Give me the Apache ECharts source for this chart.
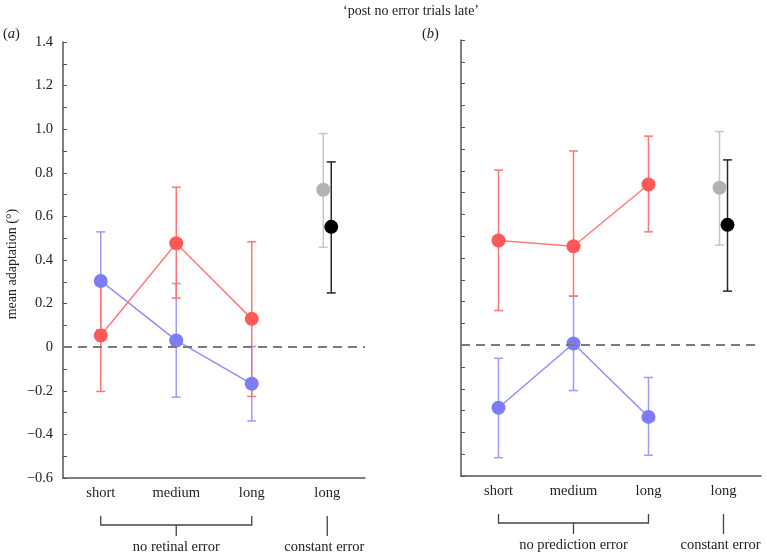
<!DOCTYPE html>
<html><head><meta charset="utf-8">
<script src="https://cdn.jsdelivr.net/npm/echarts@6/dist/echarts.min.js"></script>
<style>html,body{margin:0;padding:0;background:#fff}#c{width:767px;height:554px}</style>
</head><body><div id="c"></div>
<script>
// ---------- data ----------
const categories = ['short', 'medium', 'long', 'long'];
const yTickLabels = ['\u22120.6', '\u22120.4', '\u22120.2', '0', '0.2', '0.4', '0.6', '0.8', '1.0', '1.2', '1.4'];
const groupLabels = ['no retinal error', 'no prediction error'];
const constantLabel = 'constant error';
const titleText = '\u2018post no error trials late\u2019';

// panel (a)
const aRedMean  = [0.054, 0.477, 0.130];
const aRedLow   = [-0.203, 0.225, -0.226];
const aRedHigh  = [0.309, 0.734, 0.483];
const aBlueMean = [0.304, 0.031, -0.168];
const aBlueLow  = [0.080, -0.229, -0.338];
const aBlueHigh = [0.529, 0.292, 0.003];
const aGrayMean = [0.722], aGrayLow = [0.459], aGrayHigh = [0.980];
const aBlackMean = [0.552], aBlackLow = [0.249], aBlackHigh = [0.850];

// panel (b)
const bRedMean  = [0.480, 0.454, 0.737];
const bRedLow   = [0.159, 0.225, 0.520];
const bRedHigh  = [0.803, 0.891, 0.959];
const bBlueMean = [-0.287, 0.008, -0.329];
const bBlueLow  = [-0.516, -0.208, -0.505];
const bBlueHigh = [-0.060, 0.225, -0.148];
const bGrayMean = [0.722], bGrayLow = [0.459], bGrayHigh = [0.980];
const bBlackMean = [0.552], bBlackLow = [0.248], bBlackHigh = [0.850];

// ---------- styling ----------
const FONT = 'Liberation Serif';
const C = {
  redDot: '#ff5858', redLine: '#ff7a7a', redErr: '#ff7474',
  blueDot: '#7c7cf8', blueLine: '#8e8eff', blueErr: '#9c9cff',
  grayDot: '#b2b2b2', grayErr: '#c6c6c6',
  blackDot: '#000000', blackErr: '#2a2a2a',
  axis: '#555555'
};

function errSeries(gi, startIdx, low, high, color, offset) {
  return {
    type: 'custom', xAxisIndex: gi, yAxisIndex: gi,
    data: low.map((l, i) => [startIdx + i, l, high[i]]),
    renderItem: function (params, api) {
      const p1 = api.coord([api.value(0), api.value(1)]);
      const p2 = api.coord([api.value(0), api.value(2)]);
      const x = p1[0] + offset, w = 4.5;
      const st = { stroke: color, lineWidth: 1.5, fill: null };
      return { type: 'group', children: [
        { type: 'line', shape: { x1: x, y1: p1[1], x2: x, y2: p2[1] }, style: st },
        { type: 'line', shape: { x1: x - w, y1: p1[1], x2: x + w, y2: p1[1] }, style: st },
        { type: 'line', shape: { x1: x - w, y1: p2[1], x2: x + w, y2: p2[1] }, style: st }
      ]};
    },
    animation: false, silent: true
  };
}
function lineSeries(gi, mean, dot, line) {
  return {
    type: 'line', xAxisIndex: gi, yAxisIndex: gi,
    data: mean.map((v, i) => [i, v]),
    symbol: 'circle', symbolSize: 14, showSymbol: true,
    itemStyle: { color: dot, borderWidth: 0 },
    lineStyle: { color: line, width: 1.5 },
    animation: false, silent: true
  };
}
function dotSeries(gi, idx, mean, color, offset, withZero) {
  const s = {
    type: 'scatter', xAxisIndex: gi, yAxisIndex: gi,
    data: mean.map((v, i) => [idx + i, v]),
    symbol: 'circle', symbolSize: 14, symbolOffset: [offset, 0],
    itemStyle: { color: color, opacity: 1 },
    animation: false, silent: true
  };
  if (withZero) {
    s.markLine = {
      silent: true, symbol: ['none', 'none'], animation: false,
      label: { show: false },
      lineStyle: { color: '#7a7a7a', width: 2, type: [9, 6], opacity: 1 },
      data: [{ yAxis: 0 }]
    };
  }
  return s;
}
function panelSeries(gi, d) {
  return [
    errSeries(gi, 0, d.blueLow, d.blueHigh, C.blueErr, 0),
    lineSeries(gi, d.blueMean, C.blueDot, C.blueLine),
    errSeries(gi, 0, d.redLow, d.redHigh, C.redErr, 0),
    lineSeries(gi, d.redMean, C.redDot, C.redLine),
    errSeries(gi, 3, d.grayLow, d.grayHigh, C.grayErr, -4),
    dotSeries(gi, 3, d.grayMean, C.grayDot, -4, false),
    errSeries(gi, 3, d.blackLow, d.blackHigh, C.blackErr, 4),
    dotSeries(gi, 3, d.blackMean, C.blackDot, 4, true)
  ];
}

function xAxisCfg(gi) {
  return {
    type: 'category', gridIndex: gi, data: categories, boundaryGap: true,
    axisLine: { onZero: false, lineStyle: { color: C.axis, width: 1.5 } },
    axisTick: { inside: true, length: 3, alignWithLabel: true, lineStyle: { color: C.axis, width: 1 } },
    axisLabel: { color: '#222', fontFamily: FONT, fontSize: 14.5, margin: 8 },
    splitLine: { show: false }
  };
}
function yAxisCfg(gi, showLabels) {
  return {
    type: 'value', gridIndex: gi, min: -0.6, max: 1.4, interval: 0.1,
    axisLine: { show: true, onZero: false, lineStyle: { color: C.axis, width: 1.5 } },
    axisTick: { show: true, inside: true, length: 4, lineStyle: { color: C.axis, width: 1 } },
    axisLabel: {
      show: showLabels, color: '#222', fontFamily: FONT, fontSize: 14.5, margin: 10,
      formatter: function (v) {
        const k = Math.round(v * 10);
        if (k % 2 !== 0) return '';
        return yTickLabels[(k + 6) / 2];
      }
    },
    splitLine: { show: false }
  };
}

const chart = echarts.init(document.getElementById('c'), null, { renderer: 'canvas' });
chart.setOption({
  animation: false,
  backgroundColor: '#fff',
  grid: [
    { left: 63, top: 42, width: 302, height: 436 },
    { left: 461, top: 40, width: 300, height: 436 }
  ],
  xAxis: [xAxisCfg(0), xAxisCfg(1)],
  yAxis: [yAxisCfg(0, true), yAxisCfg(1, false)],
  series: [].concat(
    panelSeries(0, {
      redMean: aRedMean, redLow: aRedLow, redHigh: aRedHigh,
      blueMean: aBlueMean, blueLow: aBlueLow, blueHigh: aBlueHigh,
      grayMean: aGrayMean, grayLow: aGrayLow, grayHigh: aGrayHigh,
      blackMean: aBlackMean, blackLow: aBlackLow, blackHigh: aBlackHigh
    }),
    panelSeries(1, {
      redMean: bRedMean, redLow: bRedLow, redHigh: bRedHigh,
      blueMean: bBlueMean, blueLow: bBlueLow, blueHigh: bBlueHigh,
      grayMean: bGrayMean, grayLow: bGrayLow, grayHigh: bGrayHigh,
      blackMean: bBlackMean, blackLow: bBlackLow, blackHigh: bBlackHigh
    })
  )
});

// ---------- annotations (positions derived from the axes) ----------
const g = [];
const txt = (x, y, text, extra) => Object.assign({
  type: 'text', x: x, y: y, silent: true,
  style: Object.assign({ text: text, fill: '#222', font: '14.5px "' + FONT + '"', textAlign: 'center', textVerticalAlign: 'middle' }, extra || {})
});
g.push(txt(411, 11, titleText, { font: '14px "' + FONT + '"' }));
function panelTag(x, y, letter) {
  g.push({ type: 'text', x: x, y: y, silent: true, style: {
    text: '{n|(}{i|' + letter + '}{n|)}', textAlign: 'left', textVerticalAlign: 'middle',
    rich: { n: { fontFamily: FONT, fontSize: 14.5, fill: '#222' }, i: { fontFamily: FONT, fontSize: 14.5, fontStyle: 'italic', fill: '#222' } }
  }});
}
panelTag(3, 34, 'a');
panelTag(422, 34, 'b');
g.push({ type: 'text', x: 12, y: 264, rotation: Math.PI / 2, silent: true, style: {
  text: 'mean adaptation (\u00b0)', fill: '#222', font: '14px "' + FONT + '"', textAlign: 'center', textVerticalAlign: 'middle' } });

[0, 1].forEach(function (gi) {
  const p0 = chart.convertToPixel({ gridIndex: gi }, [0, -0.6]);
  const p1 = chart.convertToPixel({ gridIndex: gi }, [1, -0.6]);
  const p2 = chart.convertToPixel({ gridIndex: gi }, [2, -0.6]);
  const p3 = chart.convertToPixel({ gridIndex: gi }, [3, -0.6]);
  const base = p0[1];
  const yArm = base + 38, yH = base + 47, yDown = base + 58, yText = base + 69;
  const ls = { stroke: '#444', lineWidth: 1.3 };
  g.push({ type: 'polyline', silent: true, shape: { points: [[p0[0], yArm], [p0[0], yH], [p2[0], yH], [p2[0], yArm]] }, style: Object.assign({ fill: null }, ls) });
  g.push({ type: 'line', silent: true, shape: { x1: p1[0], y1: yH, x2: p1[0], y2: yDown }, style: ls });
  g.push({ type: 'line', silent: true, shape: { x1: p3[0], y1: yArm, x2: p3[0], y2: yDown }, style: ls });
  g.push(txt(p1[0], yText, groupLabels[gi]));
  g.push(txt(p3[0] - 3, yText, constantLabel));
});
chart.setOption({ graphic: g });
</script>
</body></html>
